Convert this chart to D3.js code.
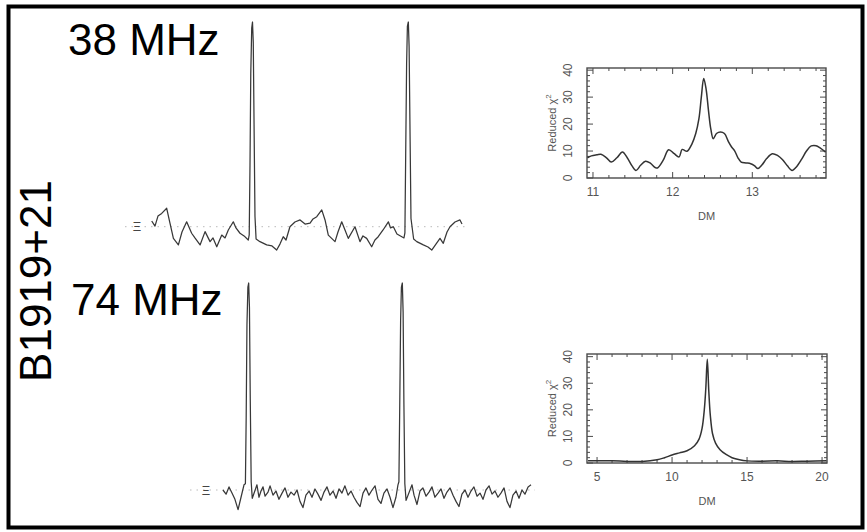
<!DOCTYPE html>
<html>
<head>
<meta charset="utf-8">
<script src="https://cdn.jsdelivr.net/npm/d3@7/dist/d3.min.js"></script>
<style>
body { margin: 0; background: #fff; }
text { font-family: "Liberation Sans", Arial, sans-serif; }
</style>
</head>
<body>
<div id="chart"></div>
<script>
// 38 MHz pulse profile (two periods), phase in periods, flux in % of peak
var topPhase = [0.011, 0.032, 0.051, 0.075, 0.107, 0.128, 0.150, 0.182, 0.205, 0.235, 0.267, 0.288, 0.321, 0.353, 0.385, 0.404,
	0.428, 0.460, 0.481, 0.502, 0.534, 0.551, 0.577, 0.603, 0.630, 0.636, 0.641, 0.646, 0.652, 0.657, 0.662, 0.667, 0.673, 0.680,
	0.705, 0.748, 0.782, 0.812, 0.833, 0.854, 0.872, 0.897, 0.929, 0.962, 0.994, 1.026, 1.045, 1.069, 1.101, 1.122, 1.143,
	1.186, 1.205, 1.229, 1.250, 1.271, 1.314, 1.346, 1.365, 1.389, 1.421, 1.442, 1.463, 1.494, 1.528, 1.542, 1.560, 1.583,
	1.614, 1.628, 1.634, 1.639, 1.645, 1.650, 1.656, 1.661, 1.667, 1.673, 1.690, 1.710, 1.752, 1.782, 1.806, 1.833, 1.859, 1.880,
	1.904, 1.923, 1.955, 1.987, 2.000];
var topFlux = [2.8, 0.3, 5.2, 6.5, 9.0, 1.7, -5.7, -8.9, -2.6, 2.4, -3.2, -5.5, -8.9, -2.4, -7.3, -5.5,
	-9.8, -4.1, -5.5, -1.6, 2.4, -0.6, -3.2, -4.5, -6.5, -4, 30, 75, 97, 100, 90, 50, 5, -6,
	-7.3, -8.9, -9.4, -11.4, -8.5, -4.9, -6.5, 0, 2.3, 3.3, 1.3, 1.7, 3.8, 4.9, 8.2, 3.3, -4.1,
	-7.3, -2.6, 2.4, -1.6, -5.7, 0, -7.3, -4.5, -5.7, -9.8, -6.5, -4.9, -1.6, 2.4, -0.6, 0, -3.6,
	-4.9, -5.5, -3, 35, 80, 98, 100, 88, 45, 4, -6, -7.3, -8.9, -9.9, -11.4, -8.5, -5.7, -8.1,
	-2.6, 0, 2.3, 3.3, 1.3];

// 74 MHz pulse profile
var lowPhase = [0.006, 0.026, 0.045, 0.064, 0.083, 0.103, 0.122, 0.141, 0.150, 0.155, 0.160, 0.166, 0.171, 0.176, 0.181, 0.187,
	0.194, 0.224, 0.237, 0.250, 0.263, 0.276, 0.295, 0.308, 0.327, 0.346, 0.365, 0.385, 0.404, 0.423, 0.442, 0.462, 0.481,
	0.500, 0.519, 0.538, 0.558, 0.577, 0.596, 0.615, 0.635, 0.654, 0.673, 0.692, 0.712, 0.731, 0.750, 0.769, 0.788, 0.808,
	0.827, 0.846, 0.865, 0.885, 0.904, 0.923, 0.942, 0.962, 0.981, 1.000, 1.019, 1.038, 1.058, 1.077, 1.096, 1.115, 1.128,
	1.134, 1.139, 1.145, 1.150, 1.156, 1.161, 1.166, 1.172, 1.180, 1.218, 1.231, 1.250, 1.269, 1.288, 1.308, 1.327, 1.346,
	1.365, 1.385, 1.404, 1.423, 1.442, 1.462, 1.481, 1.500, 1.519, 1.538, 1.558, 1.577, 1.596, 1.615, 1.635, 1.654, 1.673,
	1.692, 1.712, 1.731, 1.750, 1.769, 1.788, 1.808, 1.827, 1.846, 1.865, 1.885, 1.904, 1.923, 1.942, 1.962, 1.981];
var lowFlux = [0, -2, 1.5, -1.5, -4.5, -9.5, -3.5, 2.5, 3, 35, 80, 98, 100, 88, 45, 4,
	-4, 2.5, -3.5, -0.5, 1.5, -3, -1, 2, -2.5, -0.5, -4.5, -1.5, 1, -3.5, -1, -2.5, 0,
	-5.5, -8.5, -2.5, -0.5, -3.5, 0.5, -2, -5, -1, 1.5, -2.5, -0.5, -4, 0.5, -1.5, 2, -2.5,
	-0.5, -3.5, -6, -8, -1.5, 1, -2.5, 0, 2, -4.5, -6.5, -1.5, 0.5, -3.5, -8.5, -3.5, 2.5,
	4, 38, 82, 98, 100, 86, 42, 3, -5, 2.5, -2.5, -7, -0.5, 1, -3, -1, 1.5,
	-3.5, -1.5, 0.5, -4, -1, 1, -2.5, -5.5, -8, -2, 0, -3.5, -0.5, 1.5, -3, -1.5, -4.5,
	0, 2, -2, -0.5, -3.5, -1.5, 1, -5.5, -8.5, -2.5, -0.5, -4, 0, -2, 1.5, 2.5];

// reduced chi-square vs trial DM, 38 MHz
var dmHigh = [10.93, 10.98, 11.05, 11.10, 11.17, 11.23, 11.30, 11.37, 11.43, 11.49, 11.54, 11.60, 11.66, 11.72, 11.78, 11.81,
	11.88, 11.95, 12.02, 12.08, 12.12, 12.18, 12.24, 12.29, 12.33, 12.36, 12.39, 12.42, 12.45, 12.48, 12.51, 12.55, 12.60,
	12.65, 12.70, 12.74, 12.78, 12.82, 12.86, 12.92, 12.98, 13.03, 13.07, 13.12, 13.18, 13.25, 13.32, 13.38, 13.44, 13.50,
	13.55, 13.62, 13.68, 13.74, 13.80, 13.85, 13.92];
var chiHigh = [7.5, 8.2, 8.6, 8.8, 7.5, 5.9, 7.5, 9.6, 7.5, 4.5, 2.8, 4.8, 6.2, 5.5, 3.9, 3.7,
	6.5, 10.5, 9.0, 7.8, 10.6, 9.9, 12.5, 16.5, 22, 30, 36.9, 33, 25, 18, 14.6, 16.5, 17.1,
	16.5, 13.5, 11.5, 10.0, 7.5, 5.9, 5.6, 5.3, 4.5, 3.5, 4.8, 7.2, 9.0, 8.3, 6.8, 4.5, 2.8,
	4.0, 7.0, 10, 11.9, 12.0, 11.2, 9.6];

// reduced chi-square vs trial DM, 74 MHz
var dmLow = [4.4, 6, 8, 9, 9.5, 10, 10.5, 11, 11.5, 11.8, 12.0, 12.15, 12.25, 12.35, 12.45, 12.55, 12.7, 12.9, 13.2, 13.6,
	14, 14.5, 15, 16, 17, 18, 19, 20.3];
var chiLow = [0.8, 0.8, 0.6, 1.2, 2.0, 3.0, 3.8, 4.6, 6.5, 9, 13, 20, 28, 39, 27, 18, 11, 7.5, 5, 3.2,
	2, 1.2, 0.8, 0.7, 0.8, 0.6, 0.7, 0.8];

var panelLabels = ['38 MHz', '74 MHz'];
var sourceName = 'B1919+21';

var svg = d3.select('#chart')
	.append('svg')
	.attr('width', 867)
	.attr('height', 532);

svg.append('rect')
	.attr('x', 8.5).attr('y', 6.5)
	.attr('width', 854).attr('height', 521)
	.attr('fill', 'none')
	.attr('stroke', '#000')
	.attr('stroke-width', 4);

svg.append('text')
	.attr('transform', 'translate(51,281) rotate(-90)')
	.attr('text-anchor', 'middle')
	.attr('font-size', 44)
	.text(sourceName);

svg.append('text').attr('x', 68).attr('y', 55).attr('font-size', 44).text(panelLabels[0]);
svg.append('text').attr('x', 71).attr('y', 315).attr('font-size', 44).text(panelLabels[1]);

function drawProfile(phase, flux, x0, base, top, lineFrom, lineTo, markX) {
	let x = d3.scaleLinear().domain([0, 2]).range([x0, x0 + 312]);
	let y = d3.scaleLinear().domain([0, 100]).range([base, top]);

	// dotted zero level
	svg.append('line')
		.attr('x1', lineFrom).attr('x2', lineTo)
		.attr('y1', y(0)).attr('y2', y(0))
		.attr('stroke', '#bbb')
		.attr('stroke-dasharray', '1.5,5');

	svg.append('text')
		.attr('x', markX).attr('y', y(0) + 4.5)
		.attr('text-anchor', 'middle')
		.attr('font-size', 13)
		.attr('font-family', 'DejaVu Serif')
		.attr('fill', '#444')
		.text('Ξ');

	let line = d3.line()
		.x(function (d) { return x(d[0]); })
		.y(function (d) { return y(d[1]); });

	svg.append('path')
		.attr('d', line(d3.zip(phase, flux)))
		.attr('fill', 'none')
		.attr('stroke', '#383838')
		.attr('stroke-width', 1.25)
		.attr('stroke-linejoin', 'round');
}

drawProfile(topPhase, topFlux, 150, 226.7, 22, 125, 466, 137);
drawProfile(lowPhase, lowFlux, 222, 490, 283, 190, 535, 206);

function drawChi(dm, chi, box, xDom, yDom, xMajor, xMinor) {
	let x = d3.scaleLinear().domain(xDom).range([box.x0, box.x1]);
	let y = d3.scaleLinear().domain(yDom).range([box.y1, box.y0]);
	let g = svg.append('g');
	let col = '#4a4a4a';

	g.append('rect')
		.attr('x', box.x0).attr('y', box.y0)
		.attr('width', box.x1 - box.x0).attr('height', box.y1 - box.y0)
		.attr('fill', 'none')
		.attr('stroke', col)
		.attr('stroke-width', 1.4);

	// inward ticks on all sides
	let xt = d3.range(Math.ceil(xDom[0] / xMinor) * xMinor, xDom[1], xMinor);
	xt.forEach(function (v) {
		let major = Math.abs(v / xMajor - Math.round(v / xMajor)) < 1e-6;
		let len = major ? 6 : 3;
		g.append('line').attr('x1', x(v)).attr('x2', x(v)).attr('y1', box.y1).attr('y2', box.y1 - len)
			.attr('stroke', col).attr('stroke-width', 1);
		g.append('line').attr('x1', x(v)).attr('x2', x(v)).attr('y1', box.y0).attr('y2', box.y0 + len)
			.attr('stroke', col).attr('stroke-width', 1);
		if (major) {
			g.append('text').attr('x', x(v)).attr('y', box.y1 + 18)
				.attr('text-anchor', 'middle').attr('font-size', 12).attr('fill', '#555')
				.text(d3.format('d')(v));
		}
	});
	let yt = d3.range(0, yDom[1], 2);
	yt.forEach(function (v) {
		let major = v % 10 == 0;
		let len = major ? 6 : 3;
		g.append('line').attr('x1', box.x0).attr('x2', box.x0 + len).attr('y1', y(v)).attr('y2', y(v))
			.attr('stroke', col).attr('stroke-width', 1);
		g.append('line').attr('x1', box.x1).attr('x2', box.x1 - len).attr('y1', y(v)).attr('y2', y(v))
			.attr('stroke', col).attr('stroke-width', 1);
		if (major) {
			g.append('text')
				.attr('transform', 'translate(' + (box.x0 - 15) + ',' + y(v) + ') rotate(-90)')
				.attr('text-anchor', 'middle').attr('font-size', 12).attr('fill', '#555')
				.text(v);
		}
	});

	let ylab = g.append('text')
		.attr('transform', 'translate(' + (box.x0 - 31) + ',' + ((box.y0 + box.y1) / 2) + ') rotate(-90)')
		.attr('text-anchor', 'middle').attr('font-size', 11).attr('fill', '#555');
	ylab.append('tspan').text('Reduced \u03c7');
	ylab.append('tspan').attr('dy', -5).attr('font-size', 8).text('2');

	g.append('text')
		.attr('x', (box.x0 + box.x1) / 2).attr('y', box.y1 + 42)
		.attr('text-anchor', 'middle').attr('font-size', 11).attr('fill', '#555')
		.text('DM');

	g.append('path')
		.attr('d', d3.line()
			.x(function (d) { return x(d[0]); })
			.y(function (d) { return y(d[1]); })
			.curve(d3.curveCatmullRom)(d3.zip(dm, chi)))
		.attr('fill', 'none')
		.attr('stroke', '#333')
		.attr('stroke-width', 1.5);
}

drawChi(dmHigh, chiHigh, {x0: 587, x1: 826, y0: 68, y1: 178}, [10.925, 13.925], [0, 40.8], 1, 0.2);
drawChi(dmLow, chiLow, {x0: 587, x1: 827, y0: 354, y1: 463}, [4.33, 20.33], [0, 41], 5, 1);
</script>
</body>
</html>
